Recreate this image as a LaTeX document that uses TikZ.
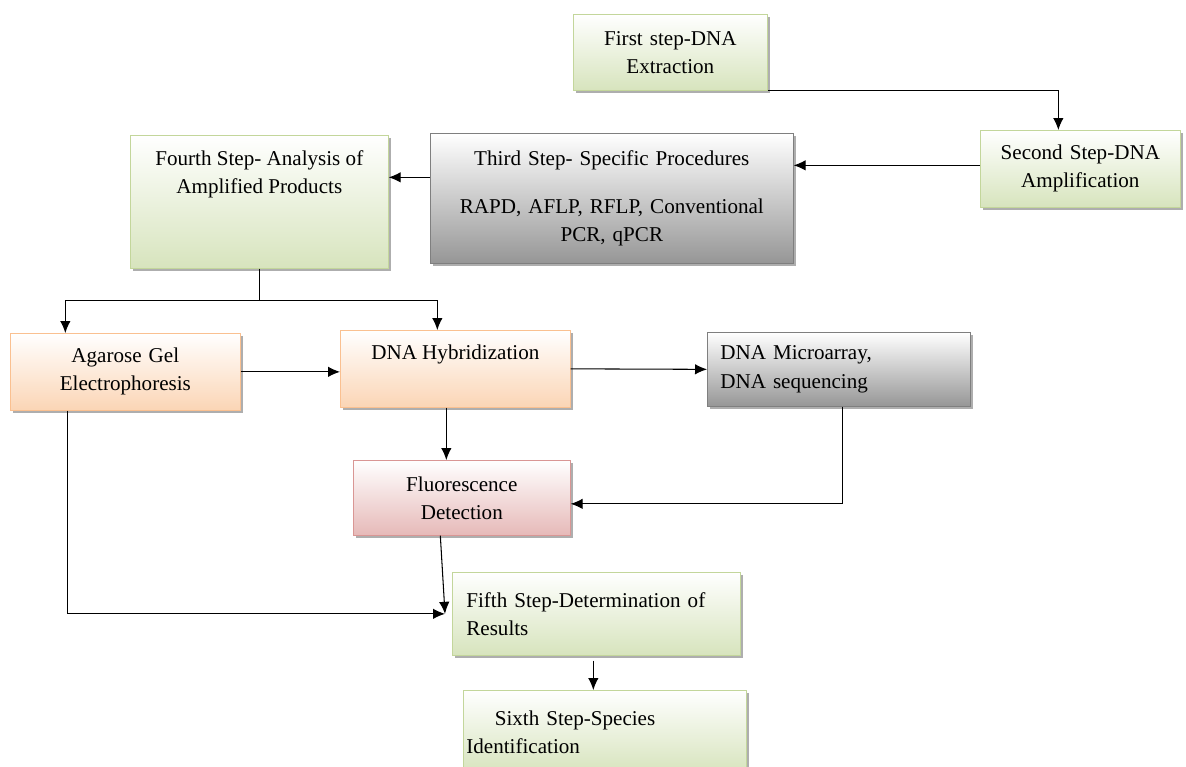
\documentclass[tikz,border=0pt]{standalone}
\usepackage{fontspec}
\setmainfont{Liberation Serif}
\usetikzlibrary{shadows,arrows.meta,calc}

\definecolor{greenfill}{HTML}{D7E4BD}
\definecolor{greenline}{HTML}{C3D69B}
\definecolor{orangefill}{HTML}{FBD5B5}
\definecolor{orangeline}{HTML}{FAC090}
\definecolor{redfill}{HTML}{E6B9B8}
\definecolor{redline}{HTML}{D99694}
\definecolor{grayfill}{HTML}{969696}
\definecolor{grayline}{HTML}{7F7F7F}

\begin{document}
\begin{tikzpicture}[
    x=0.02cm, y=-0.02cm,
    stepbox/.style={rectangle, draw, anchor=north west, inner xsep=0.2cm, inner ysep=0pt, align=center,
        font=\fontsize{12}{16}\selectfont, top color=white,
        drop shadow={shadow xshift=0.05cm, shadow yshift=-0.05cm, fill=black!45, opacity=0.7}},
    greenbox/.style={stepbox, draw=greenline, bottom color=greenfill},
    orangebox/.style={stepbox, draw=orangeline, bottom color=orangefill},
    redbox/.style={stepbox, draw=redline, bottom color=redfill},
    graybox/.style={stepbox, draw=grayline, bottom color=grayfill},
    boxtext/.style={anchor=north, inner sep=0pt, align=center, font=\fontsize{12}{16}\selectfont},
    arrow/.style={-{Latex[length=0.24cm,width=0.21cm]}, line width=0.6pt}
]
\useasboundingbox[fill=white] (0,0) rectangle (1186,767);

\node[greenbox, text width=3.48cm, minimum height=1.52cm] (first) at (573,14) {First step-DNA\\Extraction};
\node[greenbox, text width=3.6cm, minimum height=1.54cm] (second) at (980,130) {Second Step-DNA\\Amplification};
\node[graybox, inner xsep=0.1cm, text width=7.06cm, minimum height=2.6cm] (third) at (430,133)
    {Third Step- Specific Procedures\\[0.4cm]RAPD, AFLP, RFLP, Conventional\\PCR, qPCR};
\node[greenbox, minimum width=5.16cm, minimum height=2.66cm] (fourth) at (130,135) {};
\node[boxtext] (fourthtext) at ([yshift=-0.3cm]fourth.north) {Fourth Step- Analysis of\\Amplified Products};

\node[orangebox, text width=4.2cm, minimum height=1.54cm] (agarose) at (10,333) {Agarose Gel\\Electrophoresis};
\node[orangebox, minimum width=4.6cm, minimum height=1.54cm] (hybrid) at (340,330) {};
\node[boxtext] (hybridtext) at ([yshift=-0.3cm]hybrid.north) {DNA Hybridization};
\node[graybox, inner xsep=0.26cm, text width=4.74cm, align=left, minimum height=1.48cm] (micro) at (707,332)
    {DNA Microarray,\\DNA sequencing};
\node[redbox, text width=3.94cm, minimum height=1.5cm] (fluor) at (353,460) {Fluorescence\\Detection};

\node[greenbox, inner xsep=0.28cm, text width=5.2cm, align=left, minimum height=1.66cm] (fifth) at (452,572)
    {Fifth Step-Determination of\\Results};
\node[greenbox, inner xsep=0.06cm, text width=5.54cm, align=left, minimum height=1.66cm] (sixth) at (463,690)
    {\hspace*{1.35em}Sixth Step-Species\\Identification};

% connectors
\draw[arrow] (first.south east) -| ([xshift=-0.44cm]second.north);
\draw[arrow] ([yshift=0.07cm]second.west) -- ([yshift=0.07cm]second.west -| third.east);
\draw[arrow] ([yshift=0.42cm]third.west) -- ([yshift=0.42cm]third.west -| fourth.east);
\draw[line width=0.6pt] (fourth.south) -- ++(0,32) coordinate (split);
\draw[arrow] (split) -| ([xshift=-1.2cm]agarose.north);
\draw[arrow] (split) -| ([xshift=-0.36cm]hybrid.north);
\draw[arrow] (agarose.east) -- (agarose.east -| hybrid.west);
\draw[arrow] (hybrid.east) -- (micro.west);
\draw[arrow] ([xshift=-0.18cm]hybrid.south) -- ([xshift=-0.18cm]hybrid.south |- fluor.north);
\draw[arrow] ([xshift=0.07cm]micro.south) |- ([yshift=-0.12cm]fluor.east);
\coordinate (merge) at ([xshift=-0.14cm]fifth.west);
\draw[arrow] ([xshift=-0.43cm]fluor.south) -- (merge);
\draw[arrow] ([xshift=-1.16cm]agarose.south) |- (merge);
\draw[arrow] ([xshift=-0.06cm]fifth.south) ++(0,-0.1cm) -- ([xshift=-0.06cm]fifth.south |- sixth.north);

\end{tikzpicture}
\end{document}
